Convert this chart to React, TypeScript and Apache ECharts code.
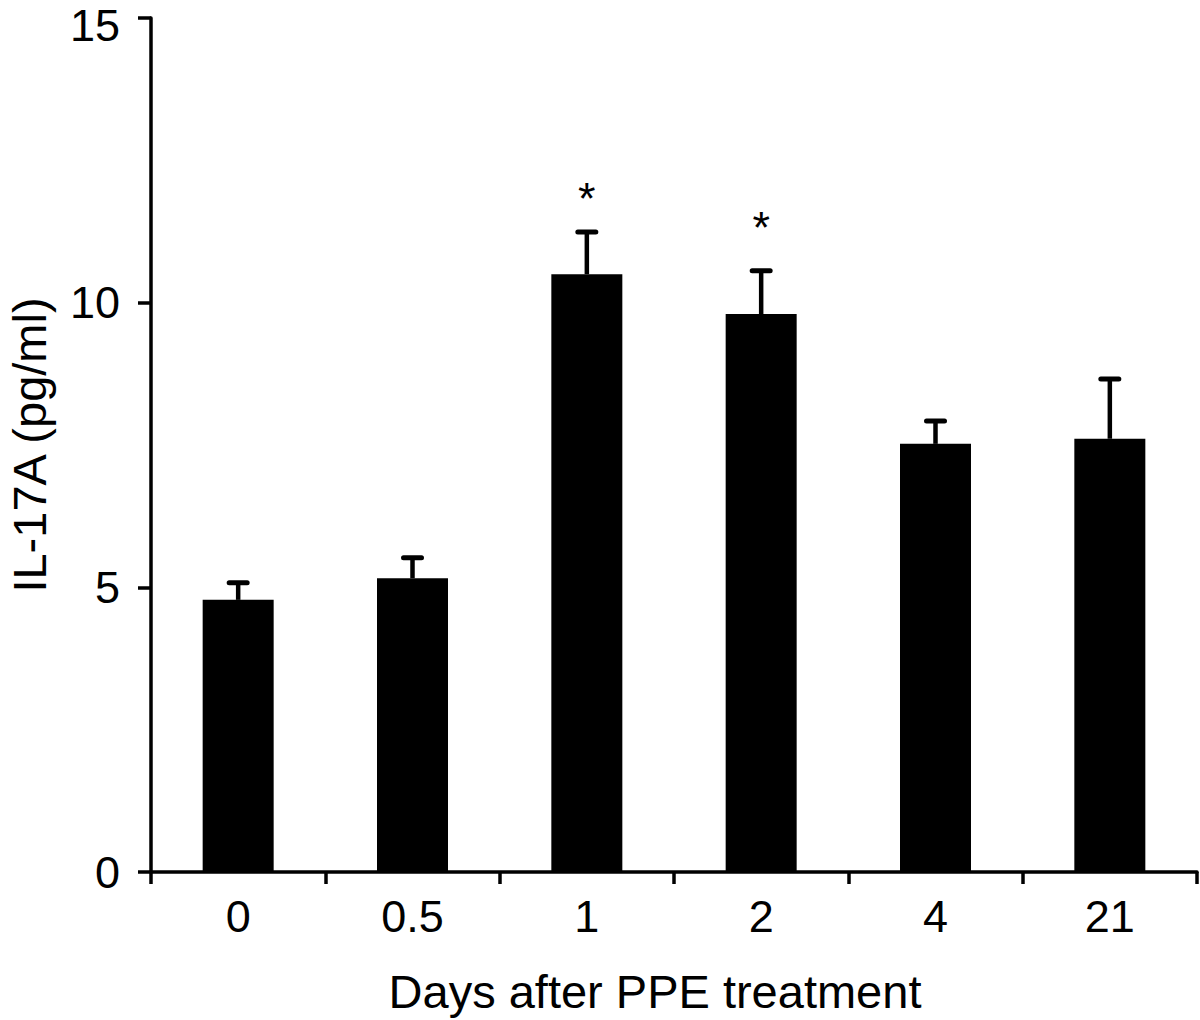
import React, { useEffect, useRef } from "react";
import * as echarts from "echarts";

const categories = ["0", "0.5", "1", "2", "4", "21"];
const means = [4.78, 5.16, 10.5, 9.8, 7.52, 7.61];
const sems = [0.3, 0.36, 0.74, 0.76, 0.4, 1.05];
const starLevels: (number | null)[] = [null, null, 11.87, 11.36, null, null];
const starMarks = ["", "", "*", "*", "", ""];
const yTicks = { min: 0, max: 15, interval: 5 };

const FONT = "'Liberation Sans', Arial, sans-serif";

export default function App() {
  const ref = useRef<HTMLDivElement>(null);
  useEffect(() => {
    if (!ref.current) return;
    const chart = echarts.init(ref.current, undefined, { renderer: "svg" });
    const errData = means.map((m, i) => [i, m, sems[i]]);
    const starData = starLevels
      .map((v, i) => (v == null ? null : [i, v, starMarks[i]]))
      .filter((d) => d != null);
    chart.setOption({
      animation: false,
      backgroundColor: "#ffffff",
      grid: {
        left: 151,
        right: 3,
        top: 18,
        bottom: 148,
        containLabel: false,
        outerBoundsMode: "none",
      },
      xAxis: {
        type: "category",
        data: categories,
        name: "Days after PPE treatment",
        nameLocation: "middle",
        nameGap: 96,
        nameTextStyle: { fontSize: 47, color: "#000", fontFamily: FONT, padding: [0, 38, 0, 0] },
        axisLine: { show: true, lineStyle: { color: "#000", width: 3.5 } },
        axisTick: { show: true, length: 12, lineStyle: { color: "#000", width: 3.5 } },
        axisLabel: { fontSize: 45, color: "#000", fontFamily: FONT, margin: 22 },
        splitLine: { show: false },
      },
      yAxis: {
        type: "value",
        min: yTicks.min,
        max: yTicks.max,
        interval: yTicks.interval,
        name: "IL-17A (pg/ml)",
        nameLocation: "middle",
        nameGap: 98,
        nameRotate: 90,
        nameTextStyle: { fontSize: 47, color: "#000", fontFamily: FONT },
        axisLine: { show: true, lineStyle: { color: "#000", width: 3.5 } },
        axisTick: { show: true, length: 13, lineStyle: { color: "#000", width: 3.5 } },
        axisLabel: {
          fontSize: 45,
          lineHeight: 36,
          color: "#000",
          fontFamily: FONT,
          margin: 31,
          formatter: (v: number) => (v === yTicks.max ? `{top|${v}}` : `${v}`),
          rich: {
            top: {
              fontSize: 45,
              lineHeight: 36,
              color: "#000",
              fontFamily: FONT,
              padding: [14, 0, 0, 0],
            },
          },
        },
        splitLine: { show: false },
      },
      series: [
        {
          type: "bar",
          data: means,
          barWidth: 71,
          itemStyle: { color: "#000" },
          z: 2,
        },
        {
          type: "custom",
          data: errData,
          encode: { x: 0, y: 1 },
          z: 3,
          renderItem: (params: any, api: any) => {
            const x = api.value(0);
            const m = api.value(1);
            const e = api.value(2);
            const base = api.coord([x, m]);
            const top = api.coord([x, m + e]);
            const hw = 9;
            return {
              type: "group",
              children: [
                {
                  type: "line",
                  shape: { x1: base[0], y1: base[1], x2: top[0], y2: top[1] },
                  style: { stroke: "#000", lineWidth: 4.5 },
                },
                {
                  type: "line",
                  shape: { x1: top[0] - hw, y1: top[1], x2: top[0] + hw, y2: top[1] },
                  style: { stroke: "#000", lineWidth: 5, lineCap: "round" },
                },
              ],
            };
          },
        },
        {
          type: "custom",
          data: starData,
          encode: { x: 0, y: 1 },
          z: 4,
          renderItem: (params: any, api: any) => {
            const p = api.coord([api.value(0), api.value(1)]);
            const d = starData[params.dataIndex] as any[];
            return {
              type: "text",
              x: p[0],
              y: p[1] + 2,
              style: {
                text: d[2],
                fontSize: 45,
                fontFamily: FONT,
                fill: "#000",
                align: "center",
                verticalAlign: "middle",
              },
            };
          },
        },
      ],
    });
    return () => chart.dispose();
  }, []);
  return (
    <div
      ref={ref}
      style={{ position: "absolute", left: 0, top: 0, width: 1200, height: 1020 }}
    />
  );
}
